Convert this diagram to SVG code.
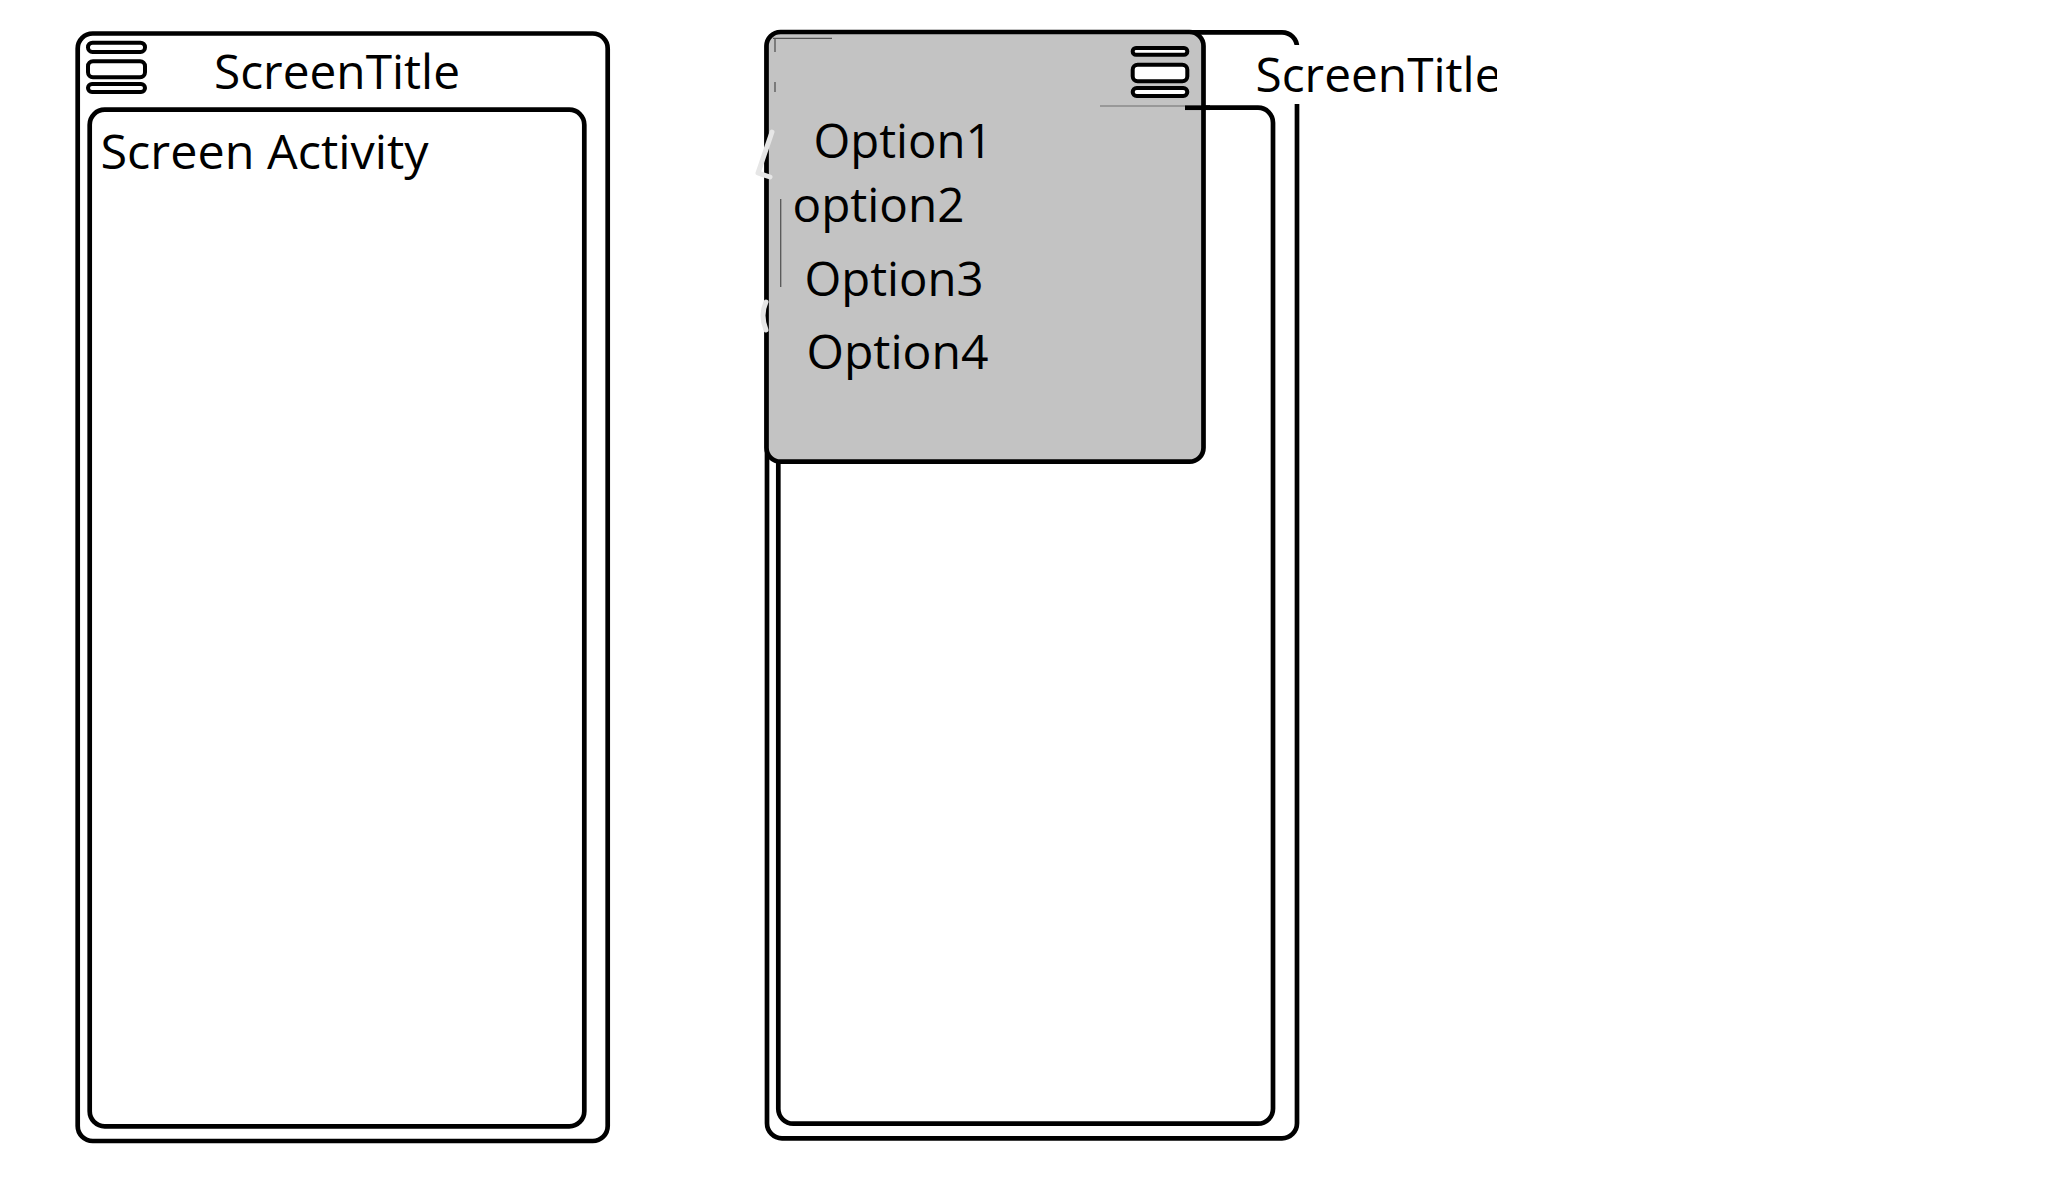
<svg xmlns="http://www.w3.org/2000/svg" width="2064" height="1177" viewBox="0 0 2064 1177">
<defs>
<style>
.frame{fill:none;stroke:#000;stroke-width:4.7}
.bar{fill:#fff;stroke:#000;stroke-width:4}
.faint{fill:none;stroke:#555;stroke-width:1.3}
.ghost{fill:none;stroke:#e6e6e6;stroke-width:5;stroke-linecap:round;stroke-linejoin:round}
.t{font-family:"Open Sans","Noto Sans","Liberation Sans",sans-serif;font-size:47px;fill:#000}
</style>
<clipPath id="clipTitle"><rect x="1240" y="30" width="257" height="90"/></clipPath>
</defs>
<rect x="0" y="0" width="2064" height="1177" fill="#fff"/>
<g id="screen-left">
<rect class="frame" x="77.7" y="33.5" width="530" height="1107.5" rx="15"/>
<rect class="frame" x="89.7" y="109.7" width="494.6" height="1016.6" rx="15"/>
<g id="menu-icon-left">
<rect class="bar" x="88" y="42.7" width="57" height="9.3" rx="4.5"/>
<rect class="bar" x="88" y="61.3" width="57" height="16" rx="5"/>
<rect class="bar" x="88" y="84" width="57" height="8" rx="4"/>
</g>
<text class="t" x="214" y="89.3" textLength="246" lengthAdjust="spacingAndGlyphs">ScreenTitle</text>
<text class="t" x="100.5" y="169.3" textLength="328" lengthAdjust="spacingAndGlyphs">Screen Activity</text>
</g>
<g id="screen-right">
<rect class="frame" x="767" y="32.3" width="530" height="1106" rx="15"/>
<rect class="frame" x="778.3" y="107.7" width="494.7" height="1016" rx="15"/>
<g id="menu-popup">
<rect x="766.5" y="32" width="437" height="429.7" rx="14" fill="#c3c3c3" stroke="#000" stroke-width="4.7"/>
<path class="faint" d="M773 38.3 H832 M775 38 V52 M775 82 V92 M780.7 199 V287"/>
<path d="M1100 106 H1185" fill="none" stroke="#8a8a8a" stroke-width="1.5"/>
<path class="ghost" d="M772 132 L758 173 L770 177 M766 302 Q760 315 766 330"/>
<text class="t" x="813.5" y="158.3" textLength="179" lengthAdjust="spacingAndGlyphs">Option1</text>
<text class="t" x="792.5" y="221.7" textLength="172" lengthAdjust="spacingAndGlyphs">option2</text>
<text class="t" x="804.5" y="296" textLength="179" lengthAdjust="spacingAndGlyphs">Option3</text>
<text class="t" x="806.5" y="369.3" textLength="182" lengthAdjust="spacingAndGlyphs">Option4</text>
</g>
<path d="M1185 107.7 H1210" fill="none" stroke="#000" stroke-width="4.7"/>
<g id="menu-icon-right">
<rect class="bar" x="1132.7" y="48" width="54.6" height="6.7" rx="3.3"/>
<rect class="bar" x="1132.7" y="64.7" width="54.6" height="16.6" rx="5"/>
<rect class="bar" x="1132.7" y="88" width="54.6" height="8" rx="4"/>
</g>
<rect x="1250" y="45" width="255" height="59" fill="#fff"/>
<text class="t" x="1255.5" y="91.7" textLength="246" lengthAdjust="spacingAndGlyphs" clip-path="url(#clipTitle)">ScreenTitle</text>
</g>
</svg>
